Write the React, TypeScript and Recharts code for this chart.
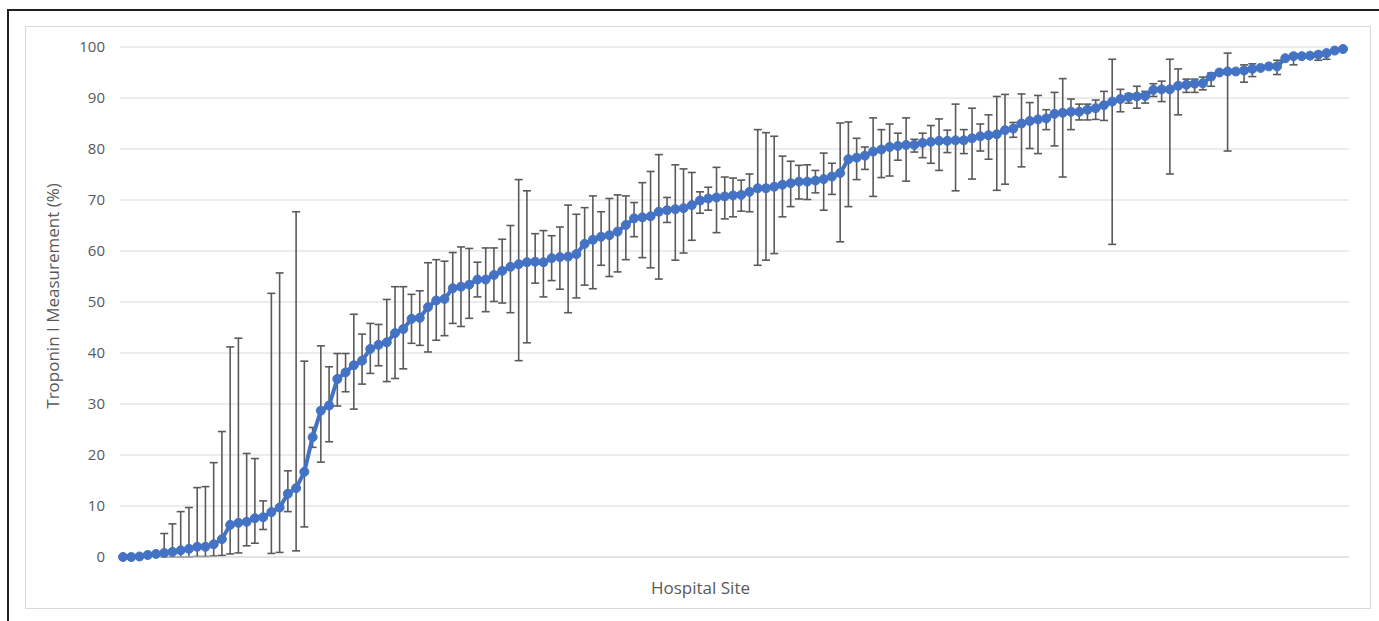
import React from "react";
import {
  LineChart,
  Line,
  XAxis,
  YAxis,
  CartesianGrid,
  ErrorBar,
} from "recharts";

// one entry per hospital site, sorted by measurement rate
const rates = [
  0, 0, 0.1, 0.4, 0.6, 0.8, 1.0, 1.3, 1.6, 2.0,
  2.0, 2.5, 3.5, 6.3, 6.7, 6.9, 7.6, 7.8, 8.8, 9.7,
  12.4, 13.5, 16.7, 23.5, 28.7, 29.7, 34.9, 36.2, 37.6, 38.5,
  40.8, 41.6, 42.1, 43.9, 44.7, 46.7, 46.9, 49.0, 50.3, 50.6,
  52.7, 53.0, 53.4, 54.4, 54.4, 55.3, 56.1, 56.9, 57.4, 57.8,
  57.9, 57.8, 58.6, 58.8, 58.9, 59.4, 61.4, 62.2, 62.8, 63.1,
  63.8, 65.1, 66.4, 66.6, 66.8, 67.7, 68.0, 68.2, 68.4, 69.0,
  69.9, 70.3, 70.5, 70.7, 70.9, 71.0, 71.6, 72.3, 72.3, 72.6,
  73.0, 73.3, 73.6, 73.6, 73.8, 74.1, 74.6, 75.3, 78.0, 78.3,
  78.7, 79.5, 79.9, 80.4, 80.6, 80.8, 80.8, 81.2, 81.4, 81.6,
  81.6, 81.7, 81.7, 82.1, 82.5, 82.7, 82.9, 83.7, 84.0, 85.0,
  85.5, 85.8, 86.0, 86.9, 87.1, 87.3, 87.3, 87.7, 88.0, 88.6,
  89.3, 89.8, 90.2, 90.3, 90.4, 91.6, 91.7, 91.7, 92.4, 92.6,
  92.8, 92.9, 94.2, 95.0, 95.2, 95.2, 95.4, 95.7, 95.9, 96.2,
  96.2, 97.8, 98.2, 98.2, 98.3, 98.5, 98.8, 99.3, 99.6,
];

// lower / upper ends of the error bars (null = no bar drawn)
const lows: (number | null)[] = [
  null, null, null, null, null, 0, 0, 0, 0, 0.1,
  0.1, 0.2, 0.3, 0.6, 0.8, 2.2, 2.7, 5.4, 0.7, 0.9,
  8.9, 1.2, 5.9, 21.5, 18.6, 22.6, 29.6, 32.4, 29.0, 33.9,
  36.0, 37.5, 34.4, 35.0, 36.9, 41.9, 41.5, 40.2, 42.5, 43.4,
  45.8, 45.2, 46.8, 51.0, 48.1, 50.1, 49.8, 47.9, 38.5, 42.0,
  53.7, 51.0, 54.2, 52.5, 47.9, 50.8, 53.3, 52.6, 57.2, 55.0,
  55.9, 58.3, 62.8, 58.7, 56.7, 54.5, 65.6, 58.2, 59.6, 62.1,
  67.4, 68.0, 63.6, 66.3, 66.7, 67.8, 67.7, 57.2, 58.2, 59.5,
  66.7, 68.7, 70.2, 70.1, 71.4, 68.0, 71.1, 61.8, 68.7, 74.0,
  76.0, 70.7, 74.4, 74.7, 77.8, 73.7, 79.4, 78.3, 77.2, 75.8,
  79.3, 71.8, 79.1, 74.1, 79.6, 78.0, 71.9, 73.1, 82.3, 76.5,
  80.1, 79.1, 83.8, 80.6, 74.5, 83.8, 85.7, 85.7, 85.8, 85.6,
  61.3, 87.3, 89.0, 88.0, 89.0, 90.3, 89.3, 75.1, 86.7, 91.1,
  91.1, 91.6, 92.3, null, 79.6, null, 93.1, 94.2, null, null,
  94.6, null, 96.5, null, null, 97.4, 97.6, null, null,
];

const highs: (number | null)[] = [
  null, null, null, null, null, 4.6, 6.5, 8.9, 9.7, 13.6,
  13.8, 18.5, 24.6, 41.2, 42.9, 20.3, 19.3, 11.0, 51.7, 55.7,
  16.9, 67.7, 38.4, 25.4, 41.4, 37.3, 39.9, 39.9, 47.6, 43.7,
  45.8, 45.6, 50.5, 53.0, 53.0, 51.5, 52.2, 57.7, 58.3, 58.0,
  59.7, 60.8, 60.5, 57.8, 60.6, 60.6, 62.3, 65.0, 74.0, 71.8,
  63.4, 64.0, 63.0, 64.7, 69.0, 67.2, 68.5, 70.8, 67.7, 70.3,
  71.0, 70.8, 69.5, 73.4, 75.6, 78.9, 70.5, 76.9, 76.1, 75.4,
  71.6, 72.5, 76.4, 74.5, 74.3, 73.9, 75.1, 83.8, 83.2, 82.5,
  78.6, 77.6, 76.8, 76.9, 75.8, 79.2, 77.2, 85.1, 85.3, 82.1,
  80.4, 86.1, 83.8, 84.9, 83.1, 86.1, 81.9, 83.1, 84.6, 85.9,
  83.7, 88.8, 83.8, 88.0, 84.9, 86.7, 90.3, 90.7, 85.2, 90.8,
  89.1, 90.5, 87.7, 91.1, 93.8, 89.8, 88.8, 88.8, 89.6, 91.3,
  97.6, 91.7, 90.8, 92.3, 91.3, 92.8, 93.3, 97.6, 95.7, 93.7,
  93.7, 94.1, 94.9, null, 98.8, null, 96.5, 96.7, null, null,
  97.4, null, 98.7, null, null, 98.9, 99.1, null, null,
];

const yTicks = [0, 10, 20, 30, 40, 50, 60, 70, 80, 90, 100];

const data = rates.map((v, i) => {
  const lo = lows[i];
  const hi = highs[i];
  return {
    site: i + 1,
    rate: v,
    err: lo == null || hi == null ? undefined : [v - lo, hi - v],
  };
});

const BLUE = "#4472C4";
const TEXT = "#595959";
const GRID = "#d9d9d9";
const FONT = "'Open Sans', sans-serif";

export default function App() {
  return (
    <div
      style={{
        position: "absolute",
        left: 0,
        top: 0,
        width: 1379,
        height: 621,
        background: "#fff",
        overflow: "hidden",
        fontFamily: FONT,
      }}
    >
      {/* dark outer frame */}
      <div
        style={{
          position: "absolute",
          left: 7,
          top: 9,
          width: 1400,
          height: 640,
          borderLeft: "2px solid #1f1f1f",
          borderTop: "2px solid #1f1f1f",
        }}
      />
      {/* chart area border */}
      <div
        style={{
          position: "absolute",
          left: 25,
          top: 26,
          width: 1344,
          height: 581,
          border: "1px solid #d9d9d9",
        }}
      />
      <div style={{ position: "absolute", left: 0, top: 0 }}>
        <LineChart
          width={1379}
          height={621}
          data={data}
          margin={{ top: 47, right: 30, bottom: 24, left: 50 }}
        >
          <CartesianGrid vertical={false} stroke={GRID} strokeWidth={1.2} />
          <XAxis
            dataKey="site"
            tick={false}
            tickLine={false}
            axisLine={{ stroke: GRID, strokeWidth: 1.2 }}
            height={40}
            padding={{ left: 3, right: 6 }}
            label={{
              value: "Hospital Site",
              position: "center",
              dx: -34,
              dy: 11,
              fill: TEXT,
              fontSize: 17,
              fontFamily: FONT,
            }}
          />
          <YAxis
            domain={[0, 100]}
            ticks={yTicks}
            width={70}
            axisLine={false}
            tickLine={false}
            tickSize={0}
            tickMargin={15}
            tick={{ fill: TEXT, fontSize: 15, fontFamily: FONT }}
            label={{
              value: "Troponin I Measurement (%)",
              angle: -90,
              position: "center",
              dx: -32,
              dy: -6,
              fill: TEXT,
              fontSize: 17,
              fontFamily: FONT,
            }}
          />
          <Line
            type="linear"
            dataKey="rate"
            stroke={BLUE}
            strokeWidth={4}
            dot={{ r: 4.5, fill: BLUE, stroke: BLUE, strokeWidth: 1 }}
            isAnimationActive={false}
          >
            <ErrorBar
              dataKey="err"
              direction="y"
              width={4}
              stroke="#5a5a5a"
              strokeWidth={1.6}
            />
          </Line>
        </LineChart>
      </div>
    </div>
  );
}
